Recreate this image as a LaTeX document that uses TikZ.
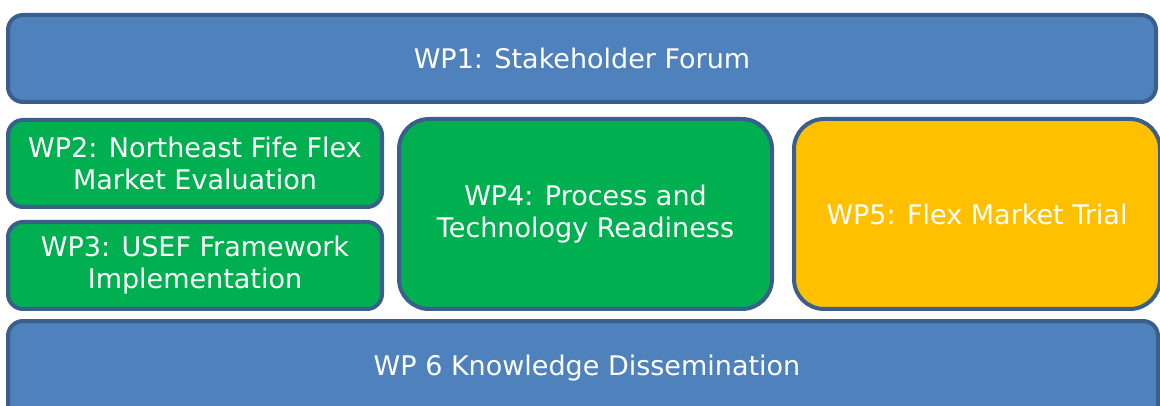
\documentclass[tikz,border=0pt]{standalone}
\usepackage{fontspec}
\setmainfont{DejaVu Sans}
\definecolor{bluefill}{HTML}{4F81BD}
\definecolor{edgeblue}{HTML}{3A5F8B}
\definecolor{greenfill}{HTML}{00B050}
\definecolor{orangefill}{HTML}{FFC000}
\begin{document}
\begin{tikzpicture}[x=1pt,y=-1pt,
  wpbox/.style={draw=edgeblue, line width=4pt, rectangle, inner sep=0pt, align=center,
    text=white, font=\fontsize{27}{32}\selectfont},
  smallbox/.style={wpbox, rounded corners=15pt},
  bigbox/.style={wpbox, rounded corners=30pt}]
\useasboundingbox (0,0) rectangle (1160,406);
\begin{scope}
\clip (0,0) rectangle (1160,406);
\node[smallbox, fill=bluefill, minimum width=1148pt, minimum height=87pt] (wp1) at (582,58.5) {\raisebox{-2pt}{WP1: Stakeholder Forum}};
\node[smallbox, fill=greenfill, minimum width=374pt, minimum height=87pt] (wp2) at (195,163.5) {WP2: Northeast Fife Flex\\Market Evaluation};
\node[smallbox, fill=greenfill, minimum width=374pt, minimum height=87pt] (wp3) at (195,265.5) {WP3: USEF Framework\\Implementation};
\node[bigbox, fill=greenfill, minimum width=373pt, minimum height=190pt] (wp4) at (585.5,214) {WP4: Process and\\Technology Readiness};
\node[bigbox, fill=orangefill, minimum width=366pt, minimum height=190pt] (wp5) at (977,214) {WP5: Flex Market Trial};
\node[smallbox, fill=bluefill, minimum width=1150pt, minimum height=120pt] (wp6box) at (583,381) {};
\node[text=white, font=\fontsize{27}{32}\selectfont, inner sep=0pt] (wp6) at (587,368) {WP 6 Knowledge Dissemination};
\end{scope}
\end{tikzpicture}
\end{document}
